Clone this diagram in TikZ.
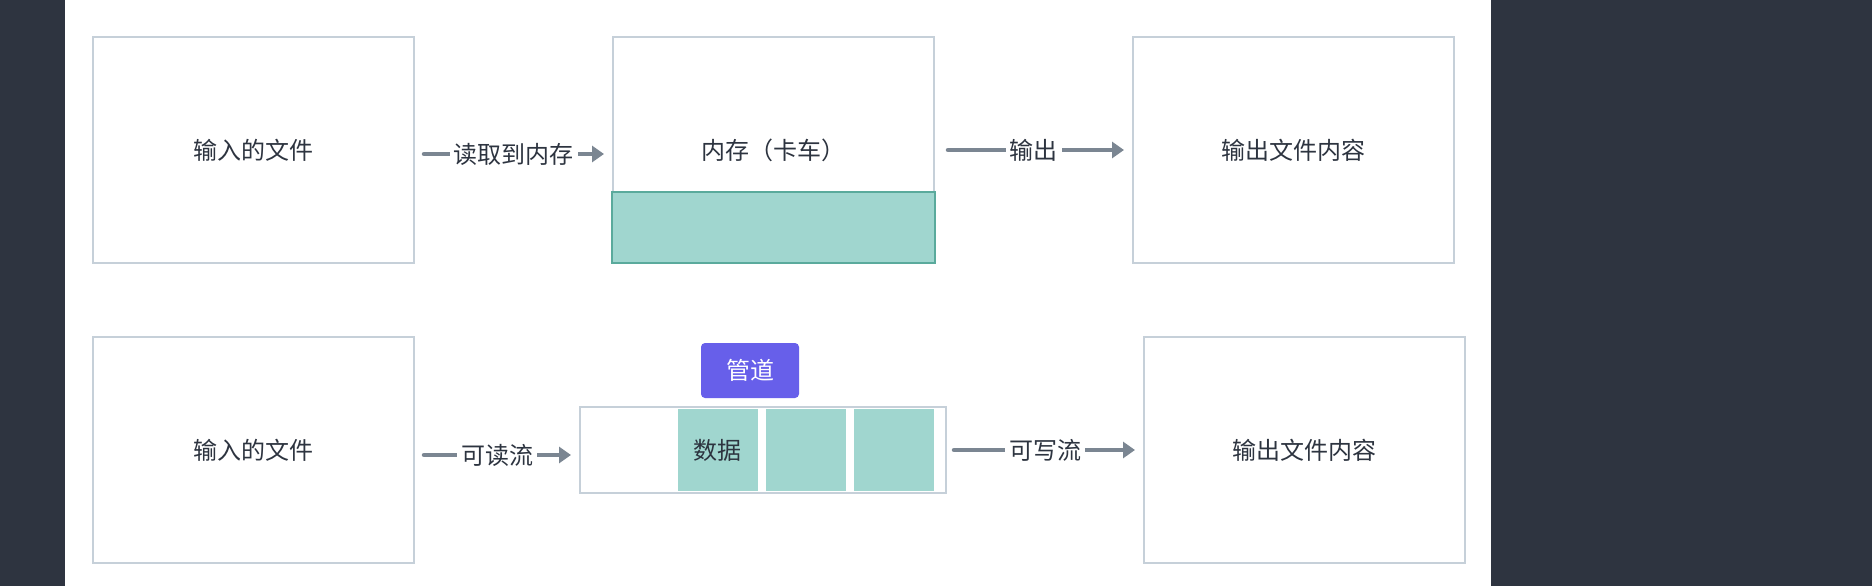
\documentclass[tikz,border=0pt]{standalone}
\usepackage{fontspec}
\newfontfamily\cjk{Noto Sans CJK SC}
\usetikzlibrary{arrows.meta,positioning}

\definecolor{pagebg}{HTML}{2E3440}
\definecolor{boxline}{HTML}{C6D0D9}
\definecolor{cargo}{HTML}{A0D6CF}
\definecolor{cargoline}{HTML}{5AAA9C}
\definecolor{flowgray}{HTML}{7B8692}
\definecolor{inktext}{HTML}{2D3440}
\definecolor{tagblue}{HTML}{675FEA}

\begin{document}
\begin{tikzpicture}[x=1pt, y=-1pt]
\tikzset{ >={Triangle[length=12pt,width=16pt]}, inner sep=0pt, outer sep=0pt,
  font=\cjk\fontsize{24}{27}\selectfont, text=inktext,
  box/.style={draw=boxline, line width=2.4pt, fill=white, minimum width=321pt, minimum height=226pt},
  truck/.style={draw=cargoline, line width=2.4pt, fill=cargo, minimum width=323pt, minimum height=71pt},
  pipe/.style={draw=boxline, line width=2.4pt, fill=white, minimum width=366pt, minimum height=86pt},
  cell/.style={fill=cargo, minimum width=80pt, minimum height=82pt},
  tag/.style={fill=tagblue, text=white, rounded corners=4pt, minimum width=98pt, minimum height=55pt},
  flow/.style={draw=flowgray, line width=4.5pt, line cap=round, ->, shorten <=10pt, shorten >=9pt},
  flowlabel/.style={fill=white, inner xsep=4pt, inner ysep=2pt},
}

% background
\fill [pagebg] (0,0) rectangle (1872,586);
\fill [white] (64.5,0) rectangle (1491,586);
\useasboundingbox (0,0) rectangle (1872,586);

% top row
\node [box] (in1)  at (253.5,150)  {输入的文件};
\node [box] (mem)  at (773.5,150)  {内存（卡车）};
\node [truck, anchor=south] (load) at (mem.south) {};
\node [box] (out1) at (1293.5,150) {输出文件内容};

\draw [flow] ([yshift=-4pt]in1.east) -- node [flowlabel] {读取到内存} ([yshift=-4pt]mem.west);
\draw [flow, shorten <=14pt] (mem.east) -- node [flowlabel] {输出} (out1.west);

% bottom row
\node [box]  (in2)  at (253.5,450)  {输入的文件};
\node [pipe] (pipe) at (763,450)    {};
\foreach \i in {1,2,3} {
  \node [cell] (cell\i) at (629.5+88*\i,450) {};
}
\node at (cell1) {数据};
\node [tag]  (tube) at (750,370.5)  {管道};
\node [box]  (out2) at (1304.5,450) {输出文件内容};

\draw [flow] ([yshift=-5pt]in2.east) -- node [flowlabel] {可读流} ([yshift=-5pt]pipe.west);
\draw [flow, shorten <=8pt] (pipe.east) -- node [flowlabel] {可写流} (out2.west);

\end{tikzpicture}
\end{document}
